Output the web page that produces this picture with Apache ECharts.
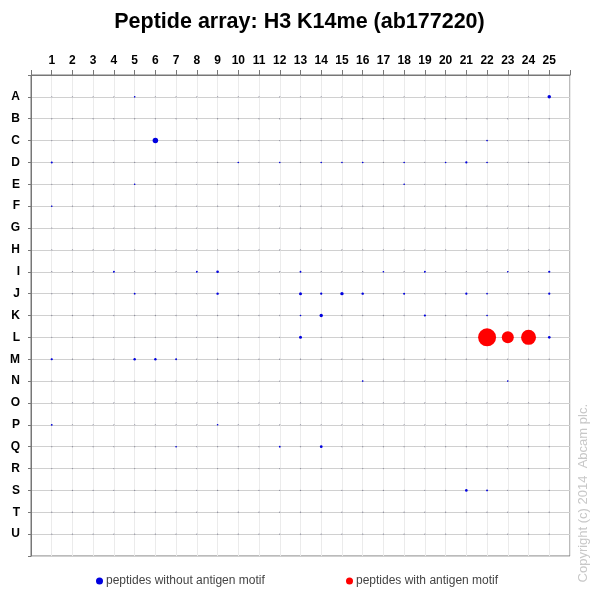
<!DOCTYPE html>
<html>
<head>
<meta charset="utf-8">
<script src="https://cdn.jsdelivr.net/npm/echarts@6/dist/echarts.min.js"></script>
<style>
  html, body { margin: 0; padding: 0; background: #fff; }
  #chart { width: 599px; height: 599px; }
</style>
</head>
<body>
<div id="chart"></div>
<script>
// 行标签 A-U，列 1-25
const rowLabels = ['A','B','C','D','E','F','G','H','I','J','K','L','M','N','O','P','Q','R','S','T','U'];
const colCount = 25;

// 无抗原基序的肽段 (蓝色)：列、行、点大小
const blueCols  = [6, 25, 5, 1, 10, 12, 14, 15, 16, 18, 20, 21, 22, 22, 5, 18, 1,
                   4, 8, 9, 13, 17, 19, 23, 25,
                   5, 9, 13, 14, 15, 16, 18, 21, 22, 25,
                   13, 14, 19, 22,
                   13, 25,
                   1, 5, 6, 7,
                   16, 23,
                   1, 9,
                   7, 12, 14,
                   21, 22];
const blueRows  = ['C','A','A','D','D','D','D','D','D','D','D','D','D','C','E','E','F',
                   'I','I','I','I','I','I','I','I',
                   'J','J','J','J','J','J','J','J','J','J',
                   'K','K','K','K',
                   'L','L',
                   'M','M','M','M',
                   'N','N',
                   'P','P',
                   'Q','Q','Q',
                   'S','S'];
const blueSizes = [5.5, 3.5, 1.6, 2, 1.6, 1.6, 1.6, 1.6, 1.6, 1.6, 1.6, 2.2, 1.6, 1.6, 1.6, 1.6, 1.6,
                   1.8, 1.8, 2.6, 1.8, 1.6, 1.8, 1.6, 2.2,
                   1.8, 2.4, 3, 2.2, 3.4, 2.4, 2, 2.2, 1.6, 2.2,
                   1.6, 3.4, 2.2, 1.6,
                   3, 2.6,
                   2.2, 2.4, 2.4, 1.8,
                   1.6, 1.6,
                   1.8, 1.6,
                   1.6, 1.8, 2.8,
                   2.6, 1.8];

// 有抗原基序的肽段 (红色)
const redCols  = [22, 23, 24];
const redRows  = ['L', 'L', 'L'];
const redSizes = [18, 12, 15];

const rowIndex = r => rowLabels.indexOf(r) + 1;

// 网格交叉点的底点
const baseDots = [];
for (let r = 1; r <= rowLabels.length; r++) {
  for (let c = 1; c <= colCount; c++) baseDots.push([c, r]);
}

const chart = echarts.init(document.getElementById('chart'));

const option = {
  animation: false,
  textStyle: { fontFamily: 'Liberation Sans, Arial, sans-serif' },
  title: {
    text: 'Peptide array: H3 K14me (ab177220)',
    left: 'center',
    top: 6,
    textStyle: { fontSize: 21.5, fontWeight: 'bold', color: '#000', fontFamily: 'Liberation Sans, Arial, sans-serif' }
  },
  grid: { left: 31, right: 29, top: 75, bottom: 43, show: true, borderColor: '#777', borderWidth: 1 },
  legend: [
    {
      data: ['peptides without antigen motif'],
      left: 91, top: 570, itemWidth: 7, itemHeight: 7, itemGap: 0,
      textStyle: { fontSize: 12, color: '#444', padding: [0, 0, 0, -2] }
    },
    {
      data: ['peptides with antigen motif'],
      left: 341, top: 570, itemWidth: 7, itemHeight: 7, itemGap: 0,
      textStyle: { fontSize: 12, color: '#444', padding: [0, 0, 0, -2] }
    }
  ],
  xAxis: {
    type: 'value', position: 'top', min: 0, max: 26, interval: 1,
    axisLine: { show: true, lineStyle: { color: '#777' } },
    axisTick: { show: true, length: 5, lineStyle: { color: '#777' } },
    axisLabel: {
      margin: 8, fontSize: 12, fontWeight: 'bold', color: '#000',
      formatter: v => (v >= 1 && v <= colCount) ? String(v) : ''
    },
    splitLine: { show: true, lineStyle: { color: '#ebebeb', width: 1 } }
  },
  yAxis: {
    type: 'value', inverse: true, min: 0, max: 22, interval: 1,
    axisLine: { show: true, lineStyle: { color: '#777' } },
    axisTick: { show: true, length: 3, lineStyle: { color: '#777' } },
    axisLabel: {
      margin: 11, fontSize: 12, fontWeight: 'bold', color: '#000',
      formatter: v => rowLabels[v - 1] || ''
    },
    splitLine: { show: true, lineStyle: { color: '#d0d0d0', width: 1 } }
  },
  graphic: [{
    type: 'text',
    left: 577, top: 404,
    rotation: Math.PI / 2,
    style: {
      text: 'Copyright (c) 2014  Abcam plc.',
      fontSize: 13, fill: '#c8c8c8', fontFamily: 'Liberation Sans, Arial, sans-serif'
    }
  }],
  series: [
    {
      type: 'scatter', silent: true, data: baseDots,
      symbolSize: 1.3, itemStyle: { color: '#8a8a9a', opacity: 1 }
    },
    {
      name: 'peptides without antigen motif', type: 'scatter',
      data: blueCols.map((c, i) => [c, rowIndex(blueRows[i]), blueSizes[i]]),
      symbolSize: d => d[2],
      itemStyle: { color: '#0000e0', opacity: 1 }
    },
    {
      name: 'peptides with antigen motif', type: 'scatter',
      data: redCols.map((c, i) => [c, rowIndex(redRows[i]), redSizes[i]]),
      symbolSize: d => d[2],
      itemStyle: { color: '#ff0000', opacity: 1 }
    }
  ]
};

chart.setOption(option);
</script>
</body>
</html>
